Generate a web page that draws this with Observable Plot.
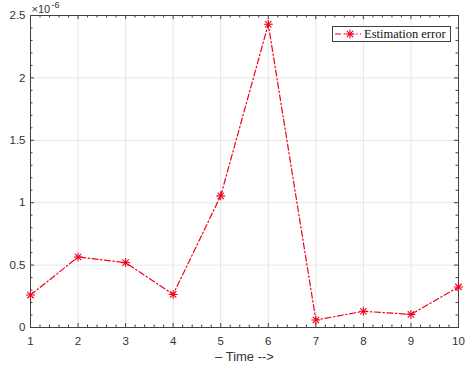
<!DOCTYPE html>
<html>
<head>
<meta charset="utf-8">
<script src="https://cdn.jsdelivr.net/npm/d3@7"></script>
<script src="https://cdn.jsdelivr.net/npm/@observablehq/plot@0.6"></script>
<style>
  html, body { margin: 0; padding: 0; background: #fff; }
  #wrap { position: relative; width: 474px; height: 372px; }
  #legend {
    position: absolute; left: 332px; top: 26px; width: 117px; height: 14px;
    border: 1px solid #404040; background: #fff; display: flex; align-items: center;
    font-family: "Liberation Serif", "DejaVu Serif", serif; font-size: 12.5px; color: #111;
    box-sizing: content-box; overflow: hidden; white-space: nowrap;
  }
  #legend svg { display: block; flex: none; }
</style>
</head>
<body>
<div id="wrap"></div>
<script>
// Data (errors in units of 1e-6)
const time = [1, 2, 3, 4, 5, 6, 7, 8, 9, 10];
const errorE6 = [0.26, 0.565, 0.52, 0.265, 1.055, 2.43, 0.06, 0.13, 0.105, 0.325];
const xTicks = [1, 2, 3, 4, 5, 6, 7, 8, 9, 10];
const yTicks = [0, 0.5, 1, 1.5, 2, 2.5];
const yTickLabels = ["0", "0.5", "1", "1.5", "2", "2.5"];
const xMinor = d3.range(1, 10.001, 0.2).filter(v => Math.abs(v - Math.round(v)) > 1e-6);
const yMinor = d3.range(0, 2.5001, 0.1).filter(v => Math.abs(v * 2 - Math.round(v * 2)) > 1e-6);
const seriesName = "Estimation error";
const xLabel = "\u2013 Time -->";

const data = time.map((t, i) => ({t, e: errorE6[i]}));

const W = 474, H = 372, mL = 30, mR = 16, mT = 15, mB = 45;
const innerH = H - mT - mB, innerW = W - mL - mR;
const axisColor = "#404040";
const red = "#f0001c";
const dash = "6,2.5,1.5,2.5";
const major = 4, minor = 2.5;

const chart = Plot.plot({
  width: W, height: H,
  marginLeft: mL, marginRight: mR, marginTop: mT, marginBottom: mB,
  style: {fontFamily: "'Liberation Sans', Arial, sans-serif", fontSize: "11.5px", color: "#333", background: "#fff"},
  x: {domain: [1, 10]},
  y: {domain: [0, 2.5]},
  marks: [
    // grid
    Plot.ruleX(xTicks.slice(1, -1), {x: d => d, stroke: "#e6e6e6", strokeWidth: 1}),
    Plot.ruleY(yTicks.slice(1, -1), {y: d => d, stroke: "#e6e6e6", strokeWidth: 1}),
    // inward ticks bottom/top
    Plot.tickX(xTicks, {x: d => d, stroke: axisColor, insetTop: innerH - major}),
    Plot.tickX(xTicks, {x: d => d, stroke: axisColor, insetBottom: innerH - major}),
    Plot.tickX(xMinor, {x: d => d, stroke: axisColor, insetTop: innerH - minor}),
    Plot.tickX(xMinor, {x: d => d, stroke: axisColor, insetBottom: innerH - minor}),
    // inward ticks left/right
    Plot.tickY(yTicks, {y: d => d, stroke: axisColor, insetRight: innerW - major}),
    Plot.tickY(yTicks, {y: d => d, stroke: axisColor, insetLeft: innerW - major}),
    Plot.tickY(yMinor, {y: d => d, stroke: axisColor, insetRight: innerW - minor}),
    Plot.tickY(yMinor, {y: d => d, stroke: axisColor, insetLeft: innerW - minor}),
    Plot.frame({stroke: axisColor, strokeWidth: 1}),
    // series
    Plot.line(data, {x: "t", y: "e", stroke: red, strokeWidth: 1.2, strokeDasharray: dash}),
    Plot.dot(data, {x: "t", y: "e", symbol: "plus", r: 3, stroke: red, strokeWidth: 1.1}),
    Plot.dot(data, {x: "t", y: "e", symbol: "times", r: 3, stroke: red, strokeWidth: 1.1}),
    // axes
    Plot.axisX(xTicks, {tickSize: 0, tickPadding: 9, fontSize: 11.5, fill: "#333",
      label: null}),
    Plot.text([xLabel], {frameAnchor: "bottom", text: d => d, dy: 33, lineAnchor: "bottom",
      fontSize: 13, fill: "#333"}),
    Plot.axisY(yTicks, {tickSize: 0, tickPadding: 5, fontSize: 11.5, fill: "#333",
      tickFormat: (d, i) => yTickLabels[yTicks.indexOf(d)], label: null}),
    // exponent
    Plot.text(["\u00d710"], {frameAnchor: "top-left", text: d => d, dx: 1, dy: -3,
      textAnchor: "start", lineAnchor: "bottom", fontSize: 11, fill: "#333"}),
    Plot.text(["-6"], {frameAnchor: "top-left", text: d => d, dx: 21, dy: -8,
      textAnchor: "start", lineAnchor: "bottom", fontSize: 9, fill: "#333"})
  ]
});

const wrap = document.getElementById("wrap");
wrap.appendChild(chart);

// Legend
const leg = document.createElement("div");
leg.id = "legend";
const sw = d3.create("svg").attr("width", 30).attr("height", 14);
sw.append("line").attr("x1", 2).attr("x2", 28).attr("y1", 7).attr("y2", 7)
  .attr("stroke", red).attr("stroke-width", 1.2).attr("stroke-dasharray", dash);
sw.append("path").attr("transform", "translate(17,7)")
  .attr("d", d3.symbol(d3.symbolPlus, 9 * Math.PI)()).attr("stroke", red).attr("stroke-width", 1.1).attr("fill", "none");
sw.append("path").attr("transform", "translate(17,7)")
  .attr("d", d3.symbol(d3.symbolTimes, 9 * Math.PI)()).attr("stroke", red).attr("stroke-width", 1.1).attr("fill", "none");
leg.appendChild(sw.node());
const lt = document.createElement("span");
lt.textContent = seriesName;
lt.style.marginLeft = "1px";
leg.appendChild(lt);
wrap.appendChild(leg);
</script>
</body>
</html>
